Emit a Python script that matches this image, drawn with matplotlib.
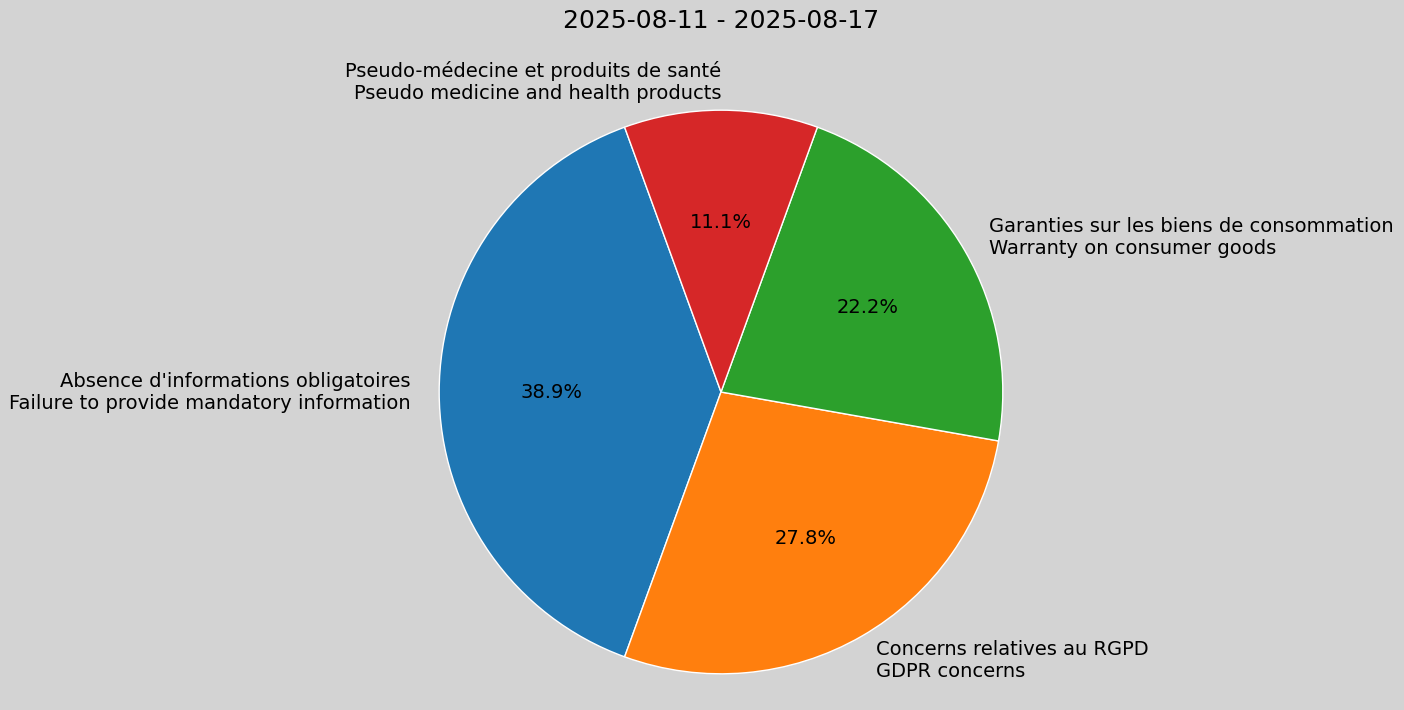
import matplotlib
matplotlib.use("Agg")
import matplotlib.pyplot as plt

labels = ["Absence d'informations obligatoires\nFailure to provide mandatory information",
          "Concerns relatives au RGPD\nGDPR concerns",
          "Garanties sur les biens de consommation\nWarranty on consumer goods",
          "Pseudo-médecine et produits de santé\nPseudo medicine and health products"]
values = [7, 5, 4, 2]
colors = ["#1f77b4", "#ff7f0e", "#2ca02c", "#d62728"]

fig = plt.figure(figsize=(14.04, 7.10), dpi=100, facecolor="#d3d3d3")
ax = fig.add_axes([411/1404, 8/710, 620/1404, 620/710])
ax.set_facecolor("#d3d3d3")
ax.pie(values, labels=labels, colors=colors, autopct="%1.1f%%", startangle=110,
       wedgeprops=dict(edgecolor="white", linewidth=1), textprops=dict(fontsize=14))
ax.axis("equal")
fig.text(721/1404, 1 - 21/710, "2025-08-11 - 2025-08-17", ha="center", va="center", fontsize=18)
fig.savefig("out.png", facecolor=fig.get_facecolor())
